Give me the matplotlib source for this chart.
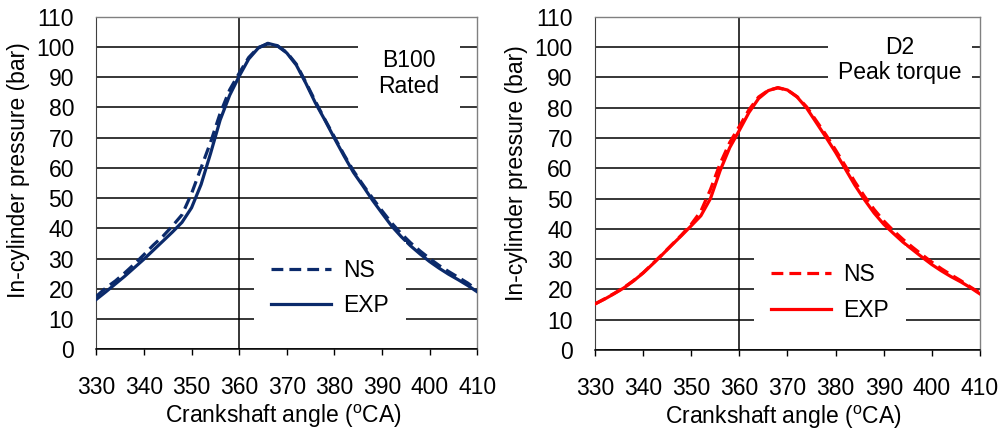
"""
In-cylinder pressure vs crank angle, NS model against experiment.
Two panels: B100 at rated speed, D2 at peak torque.
"""
import matplotlib
matplotlib.use("Agg")
import matplotlib.pyplot as plt
from matplotlib.lines import Line2D

plt.rcParams["font.family"] = ["Liberation Sans", "DejaVu Sans"]
plt.rcParams["mathtext.fontset"] = "custom"
plt.rcParams["mathtext.rm"] = "Liberation Sans"

NAVY = "#0B2A6B"
RED = "#FF0000"
FRAME = "#808080"
FS = 16.5

# crank angle, deg
angle = [330, 332, 334, 336, 338, 340, 342, 344, 346, 348,
         350, 352, 354, 356, 358, 360, 362, 364, 366, 368,
         370, 372, 374, 376, 378, 380, 382, 384, 386, 388,
         390, 392, 394, 396, 398, 400, 402, 404, 406, 408, 410]

# B100 rated, bar
b100_exp = [16.5, 19.0, 21.6, 24.2, 27.0, 29.8, 32.8, 35.8, 38.8, 42.0,
            46.8, 54.5, 64.8, 75.8, 84.0, 90.3, 96.0, 99.6, 101.2, 100.4,
            98.0, 94.0, 88.0, 81.5, 75.8, 69.8, 64.0, 58.5, 54.0, 49.3,
            45.0, 40.8, 37.3, 34.2, 31.5, 29.0, 26.8, 24.8, 23.0, 21.1, 19.0]
b100_ns = [17.5, 20.3, 22.6, 25.3, 28.2, 31.3, 34.5, 37.4, 40.8, 44.5,
           51.5, 60.0, 68.5, 78.0, 85.8, 91.3, 96.5, 99.8, 101.0, 100.4,
           98.2, 94.3, 88.3, 82.0, 76.0, 70.2, 64.4, 59.0, 54.4, 50.0,
           45.8, 41.8, 38.3, 35.2, 32.5, 30.0, 27.7, 25.7, 23.8, 21.9, 19.6]

# D2 peak torque, bar
d2_exp = [15.2, 16.8, 18.6, 20.5, 22.8, 25.4, 28.4, 31.5, 34.7, 37.8,
          41.0, 44.3, 50.0, 59.2, 66.8, 72.5, 78.4, 83.0, 85.6, 86.6,
          85.8, 83.5, 79.8, 75.0, 70.2, 65.2, 59.8, 54.4, 49.6, 45.2,
          41.5, 38.5, 35.6, 33.1, 30.6, 28.2, 26.1, 24.2, 22.5, 20.6, 18.5]
d2_ns = [15.2, 16.9, 18.7, 20.6, 22.9, 25.5, 28.5, 31.6, 34.8, 38.0,
         41.5, 45.8, 53.0, 61.5, 68.5, 73.8, 79.3, 83.5, 85.7, 86.5,
         85.8, 83.6, 80.2, 75.6, 71.0, 66.0, 60.8, 55.5, 50.7, 46.4,
         42.6, 39.4, 36.5, 33.9, 31.4, 29.0, 26.8, 24.8, 22.9, 20.8, 18.8]

x_ticks = [330, 340, 350, 360, 370, 380, 390, 400, 410]
y_ticks = [0, 10, 20, 30, 40, 50, 60, 70, 80, 90, 100, 110]


def _panel(ax, ns, exp, color, note, note_xy, note_pad, note_ls, leg_xy, xlab_y, ylab_y):
    ax.set_xlim(330, 410)
    ax.set_ylim(0, 110)
    ax.set_xticks(x_ticks)
    ax.set_yticks(y_ticks)
    ax.tick_params(axis="x", direction="out", length=4.5, width=1, pad=15,
                   labelsize=FS, colors="black")
    ax.tick_params(axis="y", length=0, pad=16, labelsize=FS)

    ax.yaxis.grid(True, color="black", linewidth=1.1)
    ax.xaxis.grid(False)
    ax.set_axisbelow(True)
    ax.axvline(360, color="black", linewidth=1.1, zorder=1)

    for side in ("top", "right"):
        ax.spines[side].set_color(FRAME)
        ax.spines[side].set_linewidth(1.0)
    ax.spines["left"].set_color("#404040")
    ax.spines["bottom"].set_color("black")
    ax.spines["bottom"].set_linewidth(1.1)

    ax.plot(angle, ns, color=color, linewidth=2.3, dashes=(3.7, 1.9), zorder=3)
    ax.plot(angle, exp, color=color, linewidth=2.3, zorder=3)

    handles = [Line2D([], [], color=color, linewidth=2.3, dashes=(3.7, 1.9)),
               Line2D([], [], color=color, linewidth=2.3)]
    leg = ax.legend(handles, ["NS", "EXP"], loc="center", bbox_to_anchor=leg_xy,
                    fontsize=FS, frameon=True, fancybox=False, framealpha=1,
                    facecolor="white", edgecolor="none", handlelength=2.6,
                    handletextpad=0.52, labelspacing=0.55, borderpad=0.75)
    leg.set_zorder(5)

    ax.text(note_xy[0], note_xy[1], note, transform=ax.transAxes, ha="center",
            va="center", fontsize=FS, linespacing=note_ls, zorder=5,
            bbox=dict(boxstyle=f"square,pad={note_pad}", fc="white", ec="none"))

    ax.set_ylabel("In-cylinder pressure (bar)", fontsize=FS)
    ax.yaxis.label.set_va("center")
    ax.yaxis.set_label_coords(-0.203, ylab_y)
    ax.set_xlabel("Crankshaft angle ($^{\\mathrm{o}}$CA)", fontsize=FS)
    ax.xaxis.label.set_va("center")
    ax.xaxis.set_label_coords(0.49, xlab_y)


fig = plt.figure(figsize=(10.01, 4.30), dpi=100)
ax1 = fig.add_axes([0.0962, 0.1877, 0.3806, 0.7735])
ax2 = fig.add_axes([0.5944, 0.1860, 0.3846, 0.7752])

_panel(ax1, b100_ns, b100_exp, NAVY, "B100\nRated", (0.821, 0.829), 0.9, 1.2,
       (0.613, 0.184), -0.203, 0.538)
_panel(ax2, d2_ns, d2_exp, RED, "D2\nPeak torque", (0.792, 0.869), 0.45, 1.1,
       (0.610, 0.1725), -0.203, 0.531)

fig.savefig("out.png", dpi=100)
plt.close(fig)
